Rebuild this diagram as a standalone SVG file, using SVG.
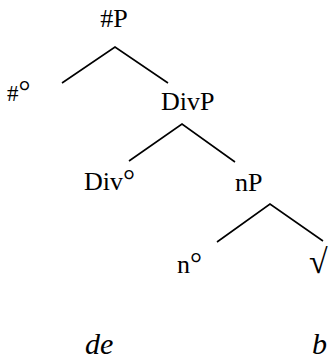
<svg xmlns="http://www.w3.org/2000/svg" width="329" height="359" viewBox="0 0 329 359">
<style>
text{font-family:"Liberation Serif","Times New Roman",serif;font-size:26px;fill:#000}
.i{font-style:italic;font-size:30px}
.d{font-size:30px}
.s{font-size:23px}
.r{font-size:34px}
.e{stroke:#000;stroke-width:1.6;fill:none}
</style>
<rect width="329" height="359" fill="#fff"/>
<g id="connectors">
<path class="e" d="M62,83 L115,47 L168,83"/>
<path class="e" d="M129,161 L182,124 L235,162"/>
<path class="e" d="M217,242 L270,204 L323,241"/>
</g>
<g id="hashP"><text x="114" y="27" text-anchor="middle">#P</text></g>
<g id="hash0"><text class="s" x="7" y="101">#<tspan class="d">°</tspan></text></g>
<g id="DivP"><text x="161" y="110">DivP</text></g>
<g id="Div0"><text x="84" y="190">Div<tspan class="d">°</tspan></text></g>
<g id="nP"><text x="235" y="191">nP</text></g>
<g id="n0"><text x="177" y="273">n<tspan class="d">°</tspan></text></g>
<g id="root"><text class="r" x="309" y="273">√</text></g>
<g id="de"><text class="i" x="85" y="354">de</text></g>
<g id="b"><text class="i" x="312" y="354">b</text></g>
</svg>
